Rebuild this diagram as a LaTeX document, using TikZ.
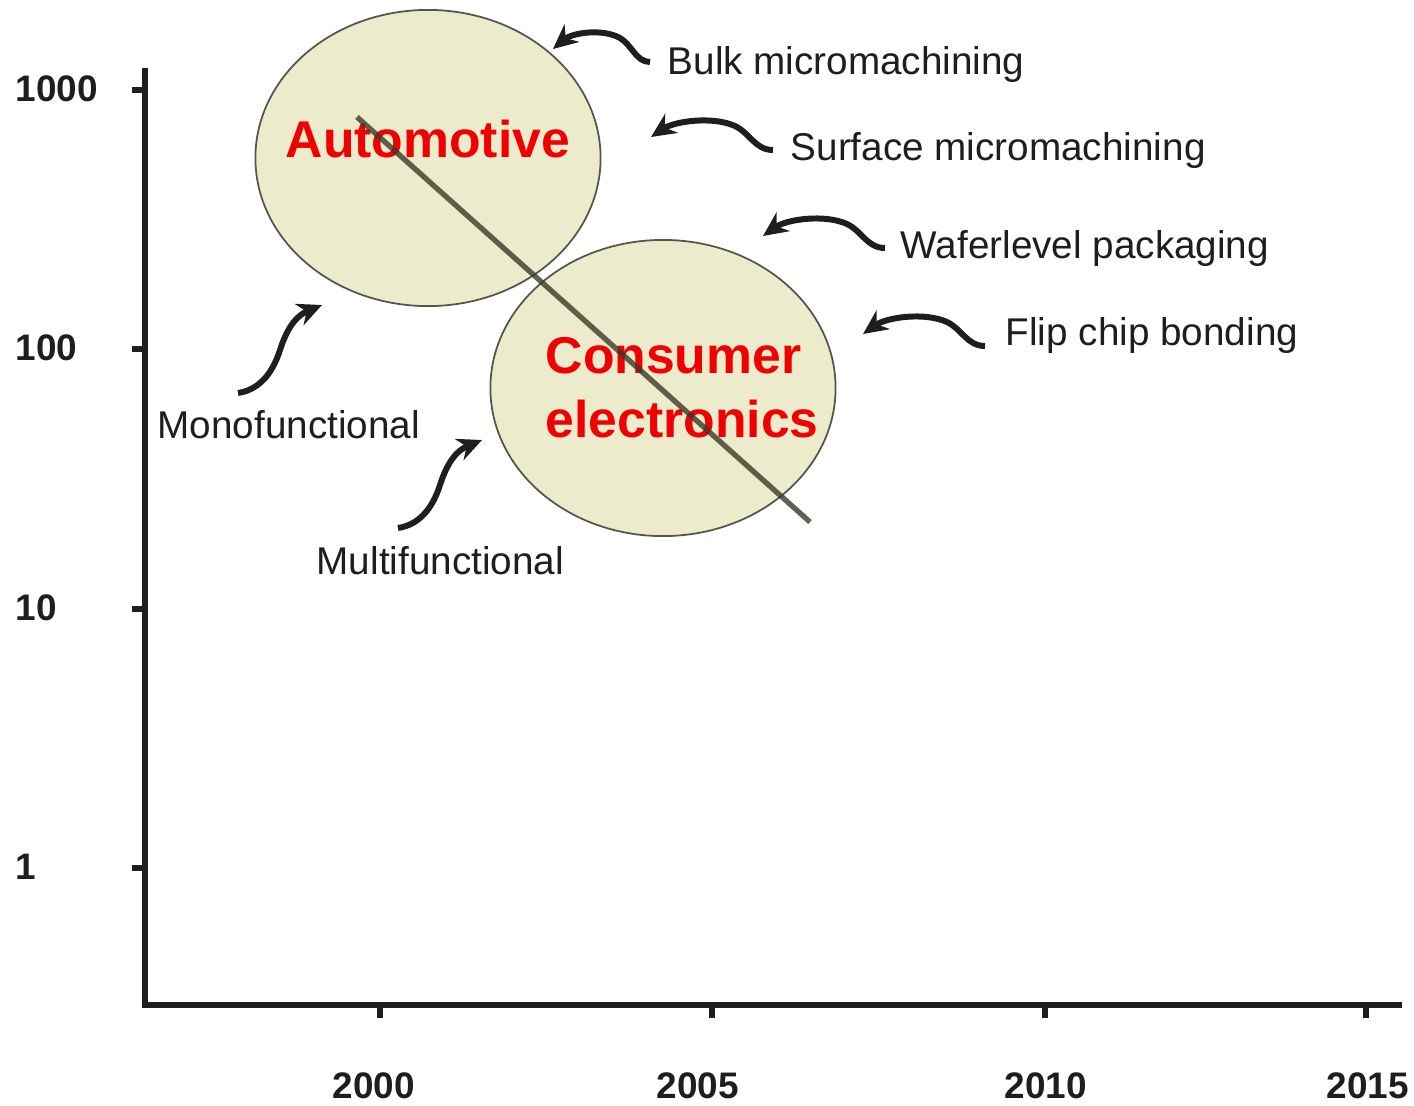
\documentclass[tikz,border=0pt]{standalone}
\usepackage{fontspec}
\setmainfont{Liberation Sans}
\usetikzlibrary{arrows.meta,positioning,shapes.geometric}
\definecolor{MemsFill}{HTML}{ECEBCC}
\definecolor{MemsEdge}{HTML}{55554C}
\definecolor{MemsRed}{HTML}{F00000}
\definecolor{MemsInk}{HTML}{1E1E1E}
\definecolor{MemsOlive}{HTML}{3A3A28}

\begin{document}
\begin{tikzpicture}[x=0.01cm,y=-0.01cm,
  field/.style={ellipse,draw=MemsEdge,line width=0.5pt,fill=MemsFill,
    minimum width=3.45cm,minimum height=2.96cm,inner sep=0pt},
  market/.style={anchor=base west,inner sep=0pt,text=MemsRed,
    font=\fontsize{14.7}{17}\selectfont\bfseries},
  tech/.style={anchor=base west,inner sep=0pt,text=MemsInk,font=\fontsize{11}{13}\selectfont},
  ticklab/.style={inner sep=0pt,text=MemsInk,font=\fontsize{10.5}{12}\selectfont\bfseries},
  axis/.style={line width=1.6pt,draw=MemsInk},
  squig/.style={-{Stealth[length=7pt,width=6.5pt]},line width=1.7pt,draw=MemsInk},
  trend/.style={line width=1.5pt,draw=MemsOlive,draw opacity=0.8}
]
\useasboundingbox (0,0) rectangle (1414,1105);

% axes
\draw[axis] (145,68) -- (145,1005) -- (1402,1005);
\foreach \yy/\lab in {90/1000,349/100,609/10,868/1}{
  \draw[axis] (132,\yy) -- (145,\yy);
  \node[ticklab,anchor=base west] (yl\lab) at (15,\yy+11) {\lab};
}
\foreach \xx/\lx/\yr in {380/374/2000,712/698/2005,1045/1046/2010,1366/1368/2015}{
  \draw[axis] (\xx,1005) -- (\xx,1018);
  \node[ticklab,anchor=base] (xl\yr) at (\lx,1098) {\yr};
}

% application fields
\node[field] (auto) at (428,158) {};
\node[field] (cons) at (663,388) {};
\node[market] (autolab) at (285,157) {Automotive};
\node[market] (conslab) at (545,373) {Consumer};
\node[market] (eleclab) at (545,437) {electronics};

\coordinate (trendA) at (357,117);
\coordinate (trendB) at (810,522);
\draw[trend] (trendA) -- (trendB);

% technologies
\node[tech] (bulk) at (667,74) {Bulk micromachining};
\node[tech] (surf) at (790,160) {Surface micromachining};
\node[tech] (wafer) at (900,258) {Waferlevel packaging};
\node[tech] (flip) at (1005,345) {Flip chip bonding};
\node[tech] (mono) at (157,438) {Monofunctional};
\node[tech] (multi) at (316,574) {Multifunctional};

\coordinate (bulkT) at (650,62);
\coordinate (bulkH) at (553,49);
\coordinate (surfT) at (773,150);
\coordinate (surfH) at (651,137);
\coordinate (waferT) at (885,248);
\coordinate (waferH) at (763,236);
\coordinate (flipT) at (985,346);
\coordinate (flipH) at (863,334);
\coordinate (monoT) at (238,393);
\coordinate (monoH) at (322,305);
\coordinate (multiT) at (398,528);
\coordinate (multiH) at (482,440);

\draw[squig] (bulkT) .. controls (636,62) and (632,45) .. (620,38)
  .. controls (602,28) and (572,33) .. (bulkH);
\draw[squig] (surfT) .. controls (755,150) and (750,133) .. (735,126)
  .. controls (713,116) and (675,121) .. (surfH);
\draw[squig] (waferT) .. controls (867,248) and (862,231) .. (847,224)
  .. controls (825,214) and (787,219) .. (waferH);
\draw[squig] (flipT) .. controls (967,346) and (962,329) .. (947,322)
  .. controls (925,312) and (887,317) .. (flipH);
\draw[squig] (monoT) .. controls (258,390) and (272,375) .. (280,350)
  .. controls (288,325) and (298,315) .. (monoH);
\draw[squig] (multiT) .. controls (418,525) and (432,510) .. (440,485)
  .. controls (448,460) and (458,450) .. (multiH);
\end{tikzpicture}
\end{document}
